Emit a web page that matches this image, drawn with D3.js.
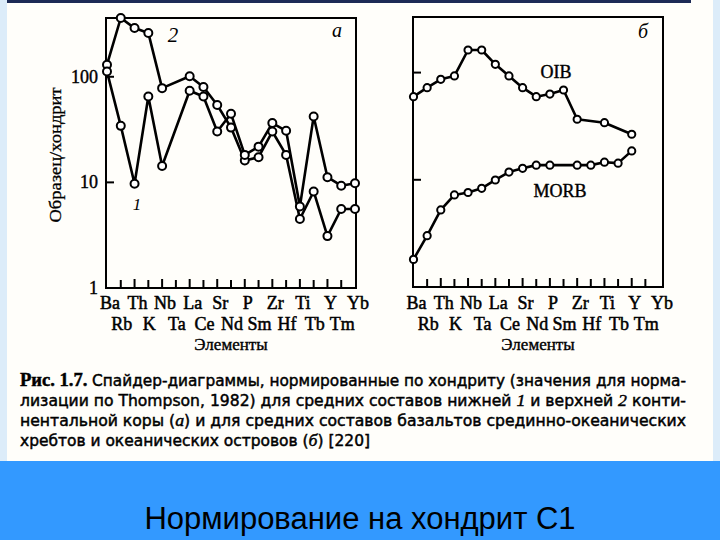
<!DOCTYPE html>
<html><head><meta charset="utf-8">
<script src="https://cdn.jsdelivr.net/npm/d3@7"></script>
<style>body{margin:0;background:#fff}svg{display:block}</style>
</head><body>
<script>
const elements = ["Ba","Rb","Th","K","Nb","Ta","La","Ce","Sr","Nd","P","Sm","Zr","Hf","Ti","Tb","Y","Tm","Yb"];
// Panel a: 2 = upper continental crust, 1 = lower continental crust (null = not plotted)
const upperCrust = [130,360,289,260,78,null,101,80,54,33,16.1,17.3,30.3,18.2,4.5,8.2,3.1,5.6,5.6];
const lowerCrust = [112,34.3,9.7,65,14.3,null,73.7,65,30.3,44.6,18.2,21.8,36.4,30.8,5.9,42,11.2,9.3,9.8];
// Panel б
const oib  = [59.6,72.3,86.6,93,162.5,162.5,119.5,93,72.3,59.6,63.1,68.8,36.7,null,34.1,null,26.6,null,null];
const morb = [1.81,3.01,5.23,7.22,7.61,8.33,9.96,11.8,12.8,13.7,13.7,null,13.7,13.7,14.6,14.3,18.6,null,null];
const yTicks = [1,10,100];
const yTickLabels = ["1","10","100"];
const topRow = elements.filter((d,i)=>i%2===0);
const bottomRow = elements.filter((d,i)=>i%2===1);
const captionLines = [
  [["Рис. 1.7. ","b"],["Спайдер-диаграммы, нормированные по хондриту (значения для норма-",""]],
  [["лизации по Thompson, 1982) для средних составов нижней ",""],["1","i"],[" и верхней ",""],["2","i"],[" конти-",""]],
  [["нентальной коры (",""],["а","i"],[") и для средних составов базальтов срединно-океанических",""]],
  [["хребтов и океанических островов (",""],["б","i"],[") [220]",""]]
];
const footerTitle = "Нормирование на хондрит С1";

const W=720,H=540;
const svg=d3.select("body").append("svg").attr("width",W).attr("height",H);
svg.append("rect").attr("width",W).attr("height",H).attr("fill","#fffefa");
svg.append("rect").attr("x",0).attr("y",0).attr("width",7).attr("height",461).attr("fill","#dcecf9");
svg.append("rect").attr("x",713).attr("y",0).attr("width",7).attr("height",461).attr("fill","#dcecf9");
svg.append("rect").attr("x",7).attr("y",0).attr("width",684).attr("height",3).attr("fill","#1c2a55");

const serif="'Liberation Serif','Times New Roman',serif";

function panel(cfg){
  const x=d3.scaleLinear().domain([0,elements.length-1]).range([cfg.x0,cfg.x1]);
  const y=d3.scaleLog().domain(cfg.ydom).range([cfg.yb,cfg.yt]);
  const g=svg.append("g");
  g.append("rect").attr("x",cfg.fx0).attr("y",cfg.yt).attr("width",cfg.fx1-cfg.fx0).attr("height",cfg.yb-cfg.yt)
    .attr("fill","none").attr("stroke","#000").attr("stroke-width",2);
  g.selectAll(".xt").data(elements.slice(1,-1)).join("line")
    .attr("x1",(d,i)=>x(i+1)).attr("x2",(d,i)=>x(i+1))
    .attr("y1",cfg.yb).attr("y2",(d,i)=>cfg.yb-((i+1)%2===0?9:8))
    .attr("stroke","#000").attr("stroke-width",2);
  g.selectAll(".yt").data(yTicks.slice(1)).join("line")
    .attr("x1",cfg.fx0).attr("x2",cfg.fx0+8).attr("y1",d=>y(d)).attr("y2",d=>y(d))
    .attr("stroke","#000").attr("stroke-width",2);
  if(cfg.ylabels){
    g.selectAll(".yl").data(yTicks).join("text")
      .attr("x",cfg.fx0-8).attr("y",d=>y(d)+6).attr("text-anchor","end")
      .attr("font-family",serif).attr("font-size",18).attr("stroke","#000").attr("stroke-width",0.4)
      .text((d,i)=>yTickLabels[i]);
  }
  g.selectAll(".xl1").data(topRow).join("text")
    .attr("x",d=>x(elements.indexOf(d))+3).attr("y",309).attr("text-anchor","middle")
    .attr("font-family",serif).attr("font-size",18).attr("stroke","#000").attr("stroke-width",0.5).text(d=>d);
  g.selectAll(".xl2").data(bottomRow).join("text")
    .attr("x",d=>x(elements.indexOf(d))+1).attr("y",330).attr("text-anchor","middle")
    .attr("font-family",serif).attr("font-size",18).attr("stroke","#000").attr("stroke-width",0.5).text(d=>d);
  g.append("text").attr("x",(cfg.fx0+cfg.fx1)/2).attr("y",350).attr("text-anchor","middle")
    .attr("font-family",serif).attr("font-size",17).attr("stroke","#000").attr("stroke-width",0.4).text("Элементы");
  const line=d3.line().x(d=>x(d.i)).y(d=>y(d.v));
  cfg.series.forEach(s=>{
    const pts=s.map((v,i)=>({v,i})).filter(d=>d.v!=null);
    g.append("path").attr("d",line(pts)).attr("fill","none").attr("stroke","#000")
      .attr("stroke-width",2.6).attr("stroke-linejoin","round");
  });
  cfg.series.forEach(s=>{
    const pts=s.map((v,i)=>({v,i})).filter(d=>d.v!=null);
    g.selectAll(null).data(pts).join("circle").attr("cx",d=>x(d.i)).attr("cy",d=>y(d.v))
      .attr("r",cfg.r).attr("fill","#fff").attr("stroke","#000").attr("stroke-width",2);
  });
  return {x,y,g};
}

const A=panel({x0:107,x1:355,fx0:106,fx1:356,yt:18,yb:288,ydom:[1,360],ylabels:true,series:[upperCrust,lowerCrust],r:4});
const B=panel({x0:413.5,x1:659,fx0:413,fx1:663,yt:17,yb:287,ydom:[1,330],ylabels:false,series:[oib,morb],r:3.6});

A.g.append("text").attr("x",173).attr("y",42).attr("text-anchor","middle").attr("font-family",serif)
  .attr("font-style","italic").attr("font-size",21).text("2");
A.g.append("text").attr("x",337).attr("y",37).attr("text-anchor","middle").attr("font-family",serif)
  .attr("font-style","italic").attr("font-size",20).text("а");
A.g.append("text").attr("x",137).attr("y",210).attr("text-anchor","middle").attr("font-family",serif)
  .attr("font-style","italic").attr("font-size",17).text("1");
B.g.append("text").attr("x",643).attr("y",38).attr("text-anchor","middle").attr("font-family",serif)
  .attr("font-style","italic").attr("font-size",20).text("б");
B.g.append("text").attr("x",556).attr("y",78).attr("text-anchor","middle").attr("font-family",serif)
  .attr("font-size",18).attr("stroke","#000").attr("stroke-width",0.4).text("OIB");
B.g.append("text").attr("x",560).attr("y",197).attr("text-anchor","middle").attr("font-family",serif)
  .attr("font-size",18).attr("stroke","#000").attr("stroke-width",0.4).text("MORB");

svg.append("text").attr("transform","translate(61,155) rotate(-90)").attr("text-anchor","middle")
  .attr("font-family",serif).attr("font-size",17).attr("stroke","#000").attr("stroke-width",0.3)
  .attr("textLength",135).attr("lengthAdjust","spacingAndGlyphs").text("Образец/хондрит");

const capFont="'DejaVu Sans Condensed','Liberation Sans Narrow',sans-serif";
const capY=[386,406,426,446];
const capW=[666,666,666,350];
captionLines.forEach((ln,k)=>{
  const t=svg.append("text").attr("x",20).attr("y",capY[k]).attr("font-family",capFont).attr("font-size",16.5)
    .attr("fill","#000").attr("stroke","#000").attr("stroke-width",0.45)
    .attr("textLength",capW[k]).attr("lengthAdjust","spacingAndGlyphs");
  ln.forEach(([s,st])=>{
    const ts=t.append("tspan").text(s);
    if(st==="b") ts.attr("font-weight","bold").attr("font-family",serif).attr("font-size",18);
    if(st==="i") ts.attr("font-style","italic").attr("font-family",serif).attr("font-size",17);
  });
});

svg.append("rect").attr("x",0).attr("y",461).attr("width",W).attr("height",79).attr("fill","#3399ff");
svg.append("text").attr("x",360).attr("y",529).attr("text-anchor","middle")
  .attr("font-family","'Liberation Sans',Arial,sans-serif").attr("font-size",31).attr("fill","#000").text(footerTitle);
</script>
</body></html>
